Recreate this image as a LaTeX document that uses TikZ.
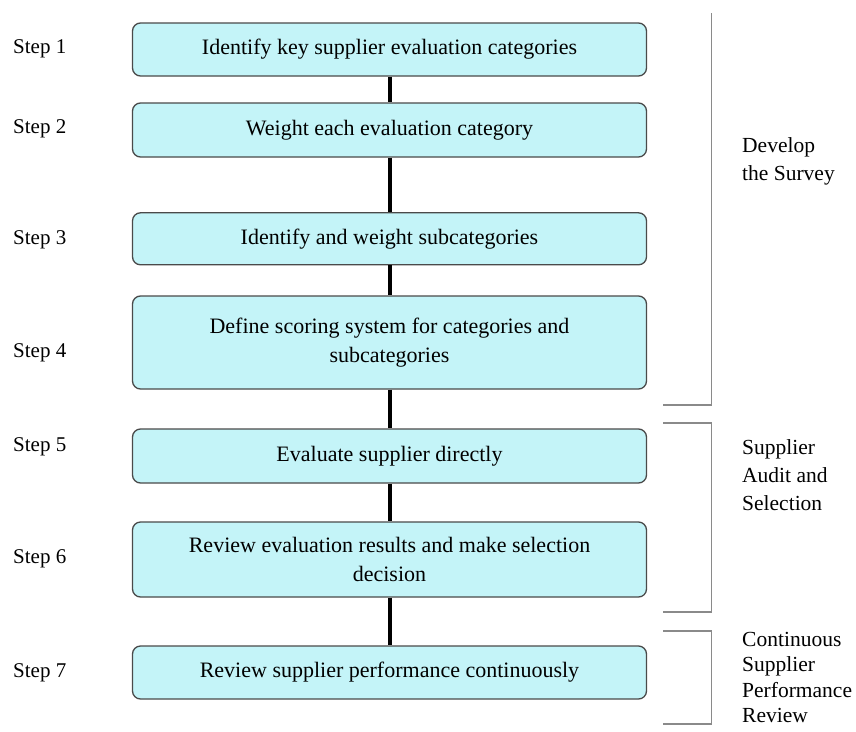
\documentclass[tikz,border=0pt]{standalone}
\usepackage{fontspec}
\setmainfont{Liberation Serif}
\definecolor{boxfill}{HTML}{C4F4F8}
\definecolor{boxline}{HTML}{4A4A4A}
\definecolor{brk}{HTML}{8A8A8A}
\begin{document}
\begin{tikzpicture}[x=1pt,y=-1pt,
  stepbox/.style={draw=boxline, line width=1.3pt, fill=boxfill, rounded corners=8pt,
    minimum width=514pt, inner sep=0pt, align=center,
    font=\fontsize{22}{29}\selectfont},
  steplabel/.style={anchor=west, inner sep=0pt, font=\fontsize{21}{24}\selectfont},
  grouplabel/.style={anchor=west, inner sep=0pt, align=left},
  link/.style={line width=4pt, black},
  bracket/.style={draw=brk, line width=1.8pt}]
\path[use as bounding box] (0,0) rectangle (856,731);

\node[stepbox, minimum height=53pt] (b1) at (389.5,49.5) {Identify key supplier evaluation categories};
\node[stepbox, minimum height=54pt] (b2) at (389.5,130) {Weight each evaluation category};
\node[stepbox, minimum height=52pt] (b3) at (389.5,238.8) {Identify and weight subcategories};
\node[stepbox, minimum height=93pt] (b4) at (389.5,342.5) {Define scoring system for categories and\\subcategories};
\node[stepbox, minimum height=54pt] (b5) at (389.5,456) {Evaluate supplier directly};
\node[stepbox, minimum height=75pt] (b6) at (389.5,559.5) {Review evaluation results and make selection\\decision};
\node[stepbox, minimum height=53pt] (b7) at (389.5,672.5) {Review supplier performance continuously};

\draw[link] (b1.south) -- (b2.north);
\draw[link] (b2.south) -- (b3.north);
\draw[link] (b3.south) -- (b4.north);
\draw[link] (b4.south) -- (b5.north);
\draw[link] (b5.south) -- (b6.north);
\draw[link] (b6.south) -- (b7.north);

\node[steplabel] (s1) at (13,49) {Step 1};
\node[steplabel] (s2) at (13,129) {Step 2};
\node[steplabel] (s3) at (13,240) {Step 3};
\node[steplabel] (s4) at (13,353) {Step 4};
\node[steplabel] (s5) at (13,447) {Step 5};
\node[steplabel] (s6) at (13,559) {Step 6};
\node[steplabel] (s7) at (13,673) {Step 7};

% brackets
\coordinate (k1a) at (711.5,13);
\coordinate (k1b) at (711.5,405);
\coordinate (k1c) at (663,405);
\draw[bracket] (k1a) -- (k1b) -- (k1c);
\coordinate (k2a) at (663,423);
\coordinate (k2b) at (711.5,423);
\coordinate (k2c) at (711.5,612);
\coordinate (k2d) at (663,612);
\draw[bracket] (k2a) -- (k2b) -- (k2c) -- (k2d);
\coordinate (k3a) at (663,631);
\coordinate (k3b) at (711.5,631);
\coordinate (k3c) at (711.5,724);
\coordinate (k3d) at (663,724);
\draw[bracket] (k3a) -- (k3b) -- (k3c) -- (k3d);

\node[grouplabel, font=\fontsize{21.5}{28}\selectfont] (g1) at (742,161) {Develop\\the Survey};
\node[grouplabel, font=\fontsize{21.5}{28}\selectfont] (g2) at (742,475) {Supplier\\Audit and\\Selection};
\node[grouplabel, font=\fontsize{21.5}{25.5}\selectfont] (g3) at (742,677.5) {Continuous\\Supplier\\Performance\\Review};
\end{tikzpicture}
\end{document}
